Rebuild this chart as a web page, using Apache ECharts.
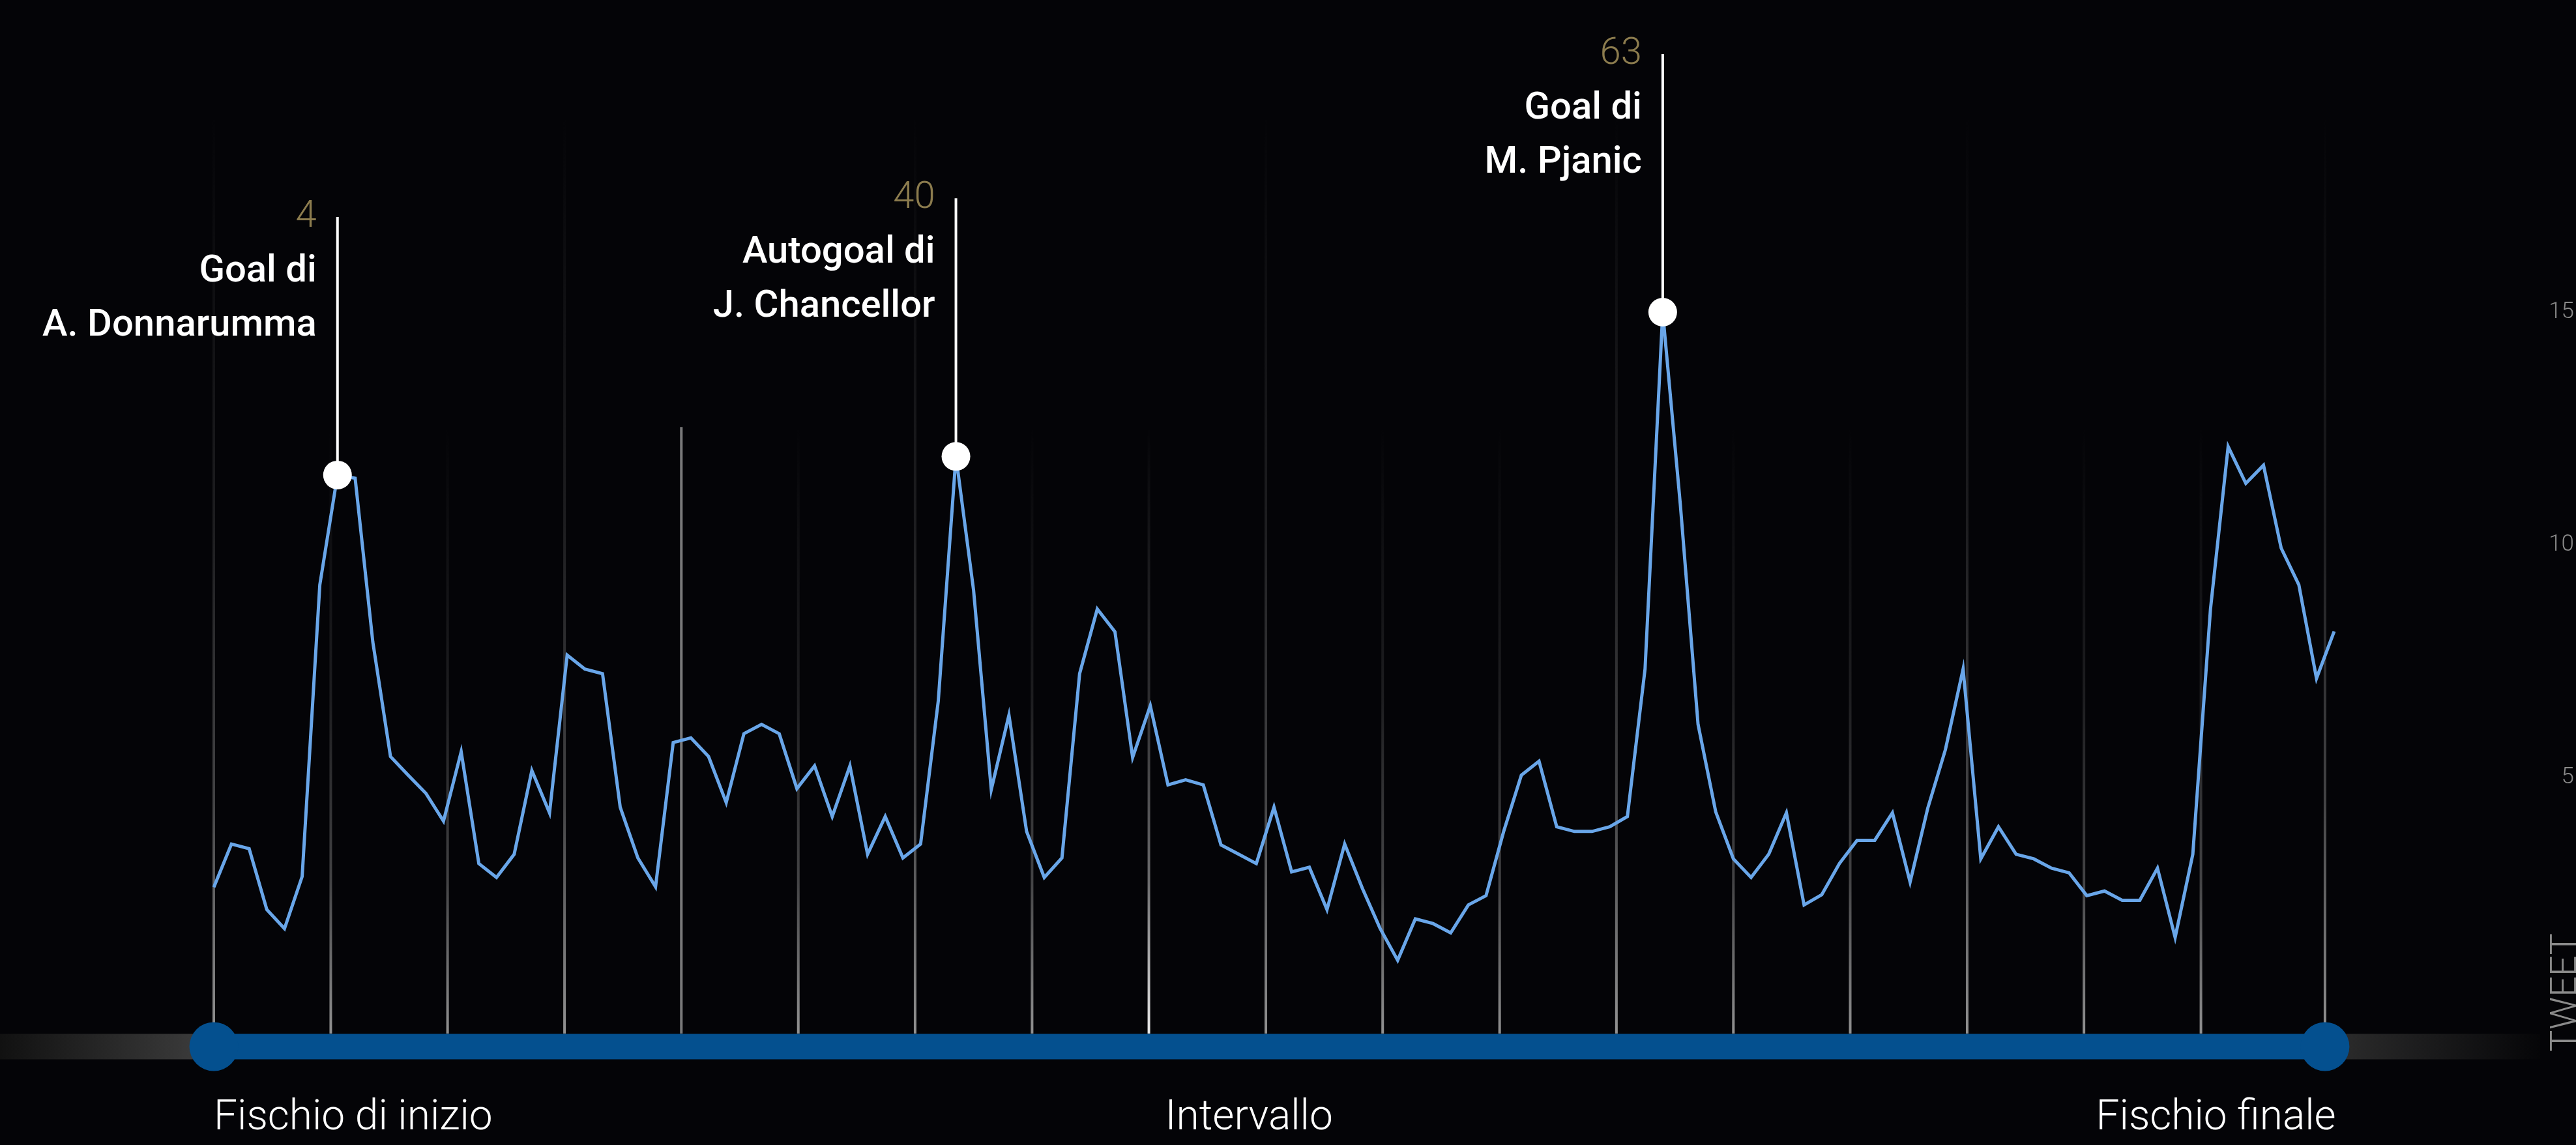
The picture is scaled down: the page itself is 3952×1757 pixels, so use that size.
<!DOCTYPE html>
<html><head><meta charset="utf-8">
<script src="https://cdn.jsdelivr.net/npm/echarts@6/dist/echarts.min.js"></script>
<style>html,body{margin:0;padding:0;background:#040407;overflow:hidden}#c{width:3952px;height:1757px}</style>
</head><body><div id="c"></div>
<script>
// tweets per time step (thousands)
const tweets = [
  2.64, 3.57, 3.47, 2.16, 1.75, 2.87, 9.14, 11.5, 11.43, 7.91,
  5.45, 5.05, 4.66, 4.06, 5.55, 3.15, 2.85, 3.35, 5.15, 4.24,
  7.63, 7.33, 7.23, 4.36, 3.27, 2.65, 5.75, 5.85, 5.45, 4.46,
  5.94, 6.14, 5.94, 4.76, 5.25, 4.16, 5.25, 3.35, 4.16, 3.27,
  3.57, 6.64, 11.9, 9.02, 4.74, 6.34, 3.84, 2.85, 3.27, 7.23,
  8.62, 8.13, 5.43, 6.54, 4.84, 4.95, 4.84, 3.55, 3.35, 3.15,
  4.36, 2.97, 3.07, 2.16, 3.57, 2.62, 1.76, 1.07, 1.96, 1.86,
  1.66, 2.26, 2.46, 3.84, 5.05, 5.35, 3.94, 3.84, 3.84, 3.94,
  4.16, 7.33, 15.0, 10.85, 6.14, 4.26, 3.25, 2.85, 3.35, 4.24,
  2.26, 2.48, 3.15, 3.65, 3.65, 4.24, 2.75, 4.34, 5.60, 7.33,
  3.25, 3.94, 3.35, 3.25, 3.05, 2.95, 2.46, 2.56, 2.36, 2.36,
  3.05, 1.56, 3.35, 8.62, 12.11, 11.32, 11.71, 9.93, 9.14, 7.13,
  8.14
];
const yTicks = [5, 10, 15];
const gridLineX = [0, 6.62, 13.23, 19.85, 26.46, 33.08, 39.69, 46.31, 52.92, 59.54,
  66.15, 72.77, 79.38, 86.0, 92.61, 99.23, 105.84, 112.46, 119.48];
const gridLineKind = ['tall','short','short','tall','solid','short','tall','short','half','tall',
  'short','short','tall','short','short','tall','short','short','tall'];
const kickoffX = 0;
const finalX = 119.48;
const phaseLabels = ['Fischio di inizio', 'Intervallo', 'Fischio finale'];
const phaseLabelX = [0, 53.84, 120.1];
const goalIndex = [7, 42, 82];
const goalMinute = ['4', '40', '63'];
const goalLine1 = ['Goal di', 'Autogoal di', 'Goal di'];
const goalLine2 = ['A. Donnarumma', 'J. Chancellor', 'M. Pjanic'];
const axisName = 'TWEET';

const FONT = 'Roboto';
const chart = echarts.init(document.getElementById('c'), null, {renderer: 'canvas'});

function grad(r, g, b) {
  return {type: 'linear', x: 0, y: 0, x2: 0, y2: 1, colorStops: [
    {offset: 0, color: `rgba(${r},${g},${b},0)`},
    {offset: 0.45, color: `rgba(${r},${g},${b},0.18)`},
    {offset: 0.75, color: `rgba(${r},${g},${b},0.45)`},
    {offset: 1, color: `rgba(${r},${g},${b},1)`}]};
}

const option = {
  backgroundColor: '#040407',
  animation: false,
  grid: {left: 328, right: 362, top: 122, bottom: 207},
  xAxis: {type: 'value', min: 0, max: 120, show: false},
  yAxis: {
    type: 'value', min: 0, max: 20, interval: 5, position: 'right',
    axisLine: {show: false}, axisTick: {show: false}, splitLine: {show: false},
    axisLabel: {
      formatter: v => yTicks.includes(v) ? String(v) : '',
      align: 'right', margin: 368, color: '#8a8a8a', fontSize: 35,
      fontFamily: FONT, fontWeight: 300
    }
  },
  graphic: [{
    type: 'text', x: 3938, y: 1523, rotation: Math.PI / 2, z: 10,
    style: {text: axisName, fill: '#8a8a8a', font: `300 56px ${FONT}`, align: 'center', verticalAlign: 'middle'}
  }],
  series: [
    {
      type: 'custom', z: 1, silent: true,
      data: gridLineX.map((x, i) => [x, i]),
      renderItem(params, api) {
        const x = api.value(0), i = api.value(1);
        const kind = gridLineKind[i];
        const topVal = kind === 'tall' ? 19.24 : 12.53;
        const pt = api.coord([x, topVal]);
        const p0 = api.coord([x, 0]);
        const bottom = p0[1] + 36;
        let fill;
        if (kind === 'solid') fill = '#7a7a7a';
        else if (kind === 'half') fill = grad(235, 235, 235);
        else fill = grad(145, 145, 145);
        return {type: 'rect', shape: {x: pt[0] - 2, y: pt[1], width: 4, height: bottom - pt[1]}, style: {fill}};
      }
    },
    {
      type: 'custom', z: 2, silent: true,
      data: [[kickoffX, finalX]],
      renderItem(params, api) {
        const a = api.coord([api.value(0), 0]);
        const b = api.coord([api.value(1), 0]);
        const yc = a[1] + 56;
        const h = 39;
        return {type: 'group', children: [
          {type: 'rect', shape: {x: 0, y: yc - h / 2, width: a[0], height: h},
            style: {fill: {type: 'linear', x: 0, y: 0, x2: 1, y2: 0, colorStops: [
              {offset: 0, color: '#111111'}, {offset: 1, color: '#3e3e3e'}]}}},
          {type: 'rect', shape: {x: b[0], y: yc - h / 2, width: 330, height: h},
            style: {fill: {type: 'linear', x: 0, y: 0, x2: 1, y2: 0, colorStops: [
              {offset: 0, color: '#2e2e2e'}, {offset: 1, color: '#060608'}]}}},
          {type: 'rect', shape: {x: a[0], y: yc - h / 2, width: b[0] - a[0], height: h}, style: {fill: '#04508f'}},
          {type: 'circle', shape: {cx: a[0], cy: yc, r: 37.5}, style: {fill: '#04508f'}},
          {type: 'circle', shape: {cx: b[0], cy: yc, r: 37.5}, style: {fill: '#04508f'}}
        ]};
      }
    },
    {
      type: 'line', z: 3, data: tweets.map((v, i) => [i, v]),
      symbol: 'none', lineStyle: {color: '#69a6e9', width: 5, join: 'miter'}, silent: true
    },
    {
      type: 'custom', z: 4, silent: true,
      data: goalIndex.map((idx, i) => [idx, tweets[idx], i]),
      renderItem(params, api) {
        const p = api.coord([api.value(0), api.value(1)]);
        const i = api.value(2);
        const top = p[1] - 396;
        const tx = p[0] - 32;
        return {type: 'group', children: [
          {type: 'rect', shape: {x: p[0] - 2, y: top, width: 4, height: p[1] - top}, style: {fill: '#ffffff'}},
          {type: 'circle', shape: {cx: p[0], cy: p[1], r: 22}, style: {fill: '#ffffff'}},
          {type: 'text', style: {x: tx, y: top + 20 - 0.342 * 58, text: goalMinute[i], fill: '#8c7c4e',
            font: `300 58px ${FONT}`, align: 'right', verticalAlign: 'middle'}},
          {type: 'text', style: {x: tx, y: top + 104 - 0.342 * 58, text: goalLine1[i], fill: '#ffffff',
            font: `500 58px ${FONT}`, align: 'right', verticalAlign: 'middle'}},
          {type: 'text', style: {x: tx, y: top + 187 - 0.342 * 58, text: goalLine2[i], fill: '#ffffff',
            font: `500 58px ${FONT}`, align: 'right', verticalAlign: 'middle'}}
        ]};
      }
    },
    {
      type: 'custom', z: 5, silent: true,
      data: phaseLabelX.map((x, i) => [x, i]),
      renderItem(params, api) {
        const p = api.coord([api.value(0), 0]);
        const i = api.value(1);
        return {type: 'text', style: {x: p[0], y: p[1] + 189 - 0.342 * 64, text: phaseLabels[i], fill: '#ffffff',
          font: `300 64px ${FONT}`, align: i === 2 ? 'right' : 'left', verticalAlign: 'middle'}};
      }
    }
  ]
};
chart.setOption(option);
</script></body></html>
